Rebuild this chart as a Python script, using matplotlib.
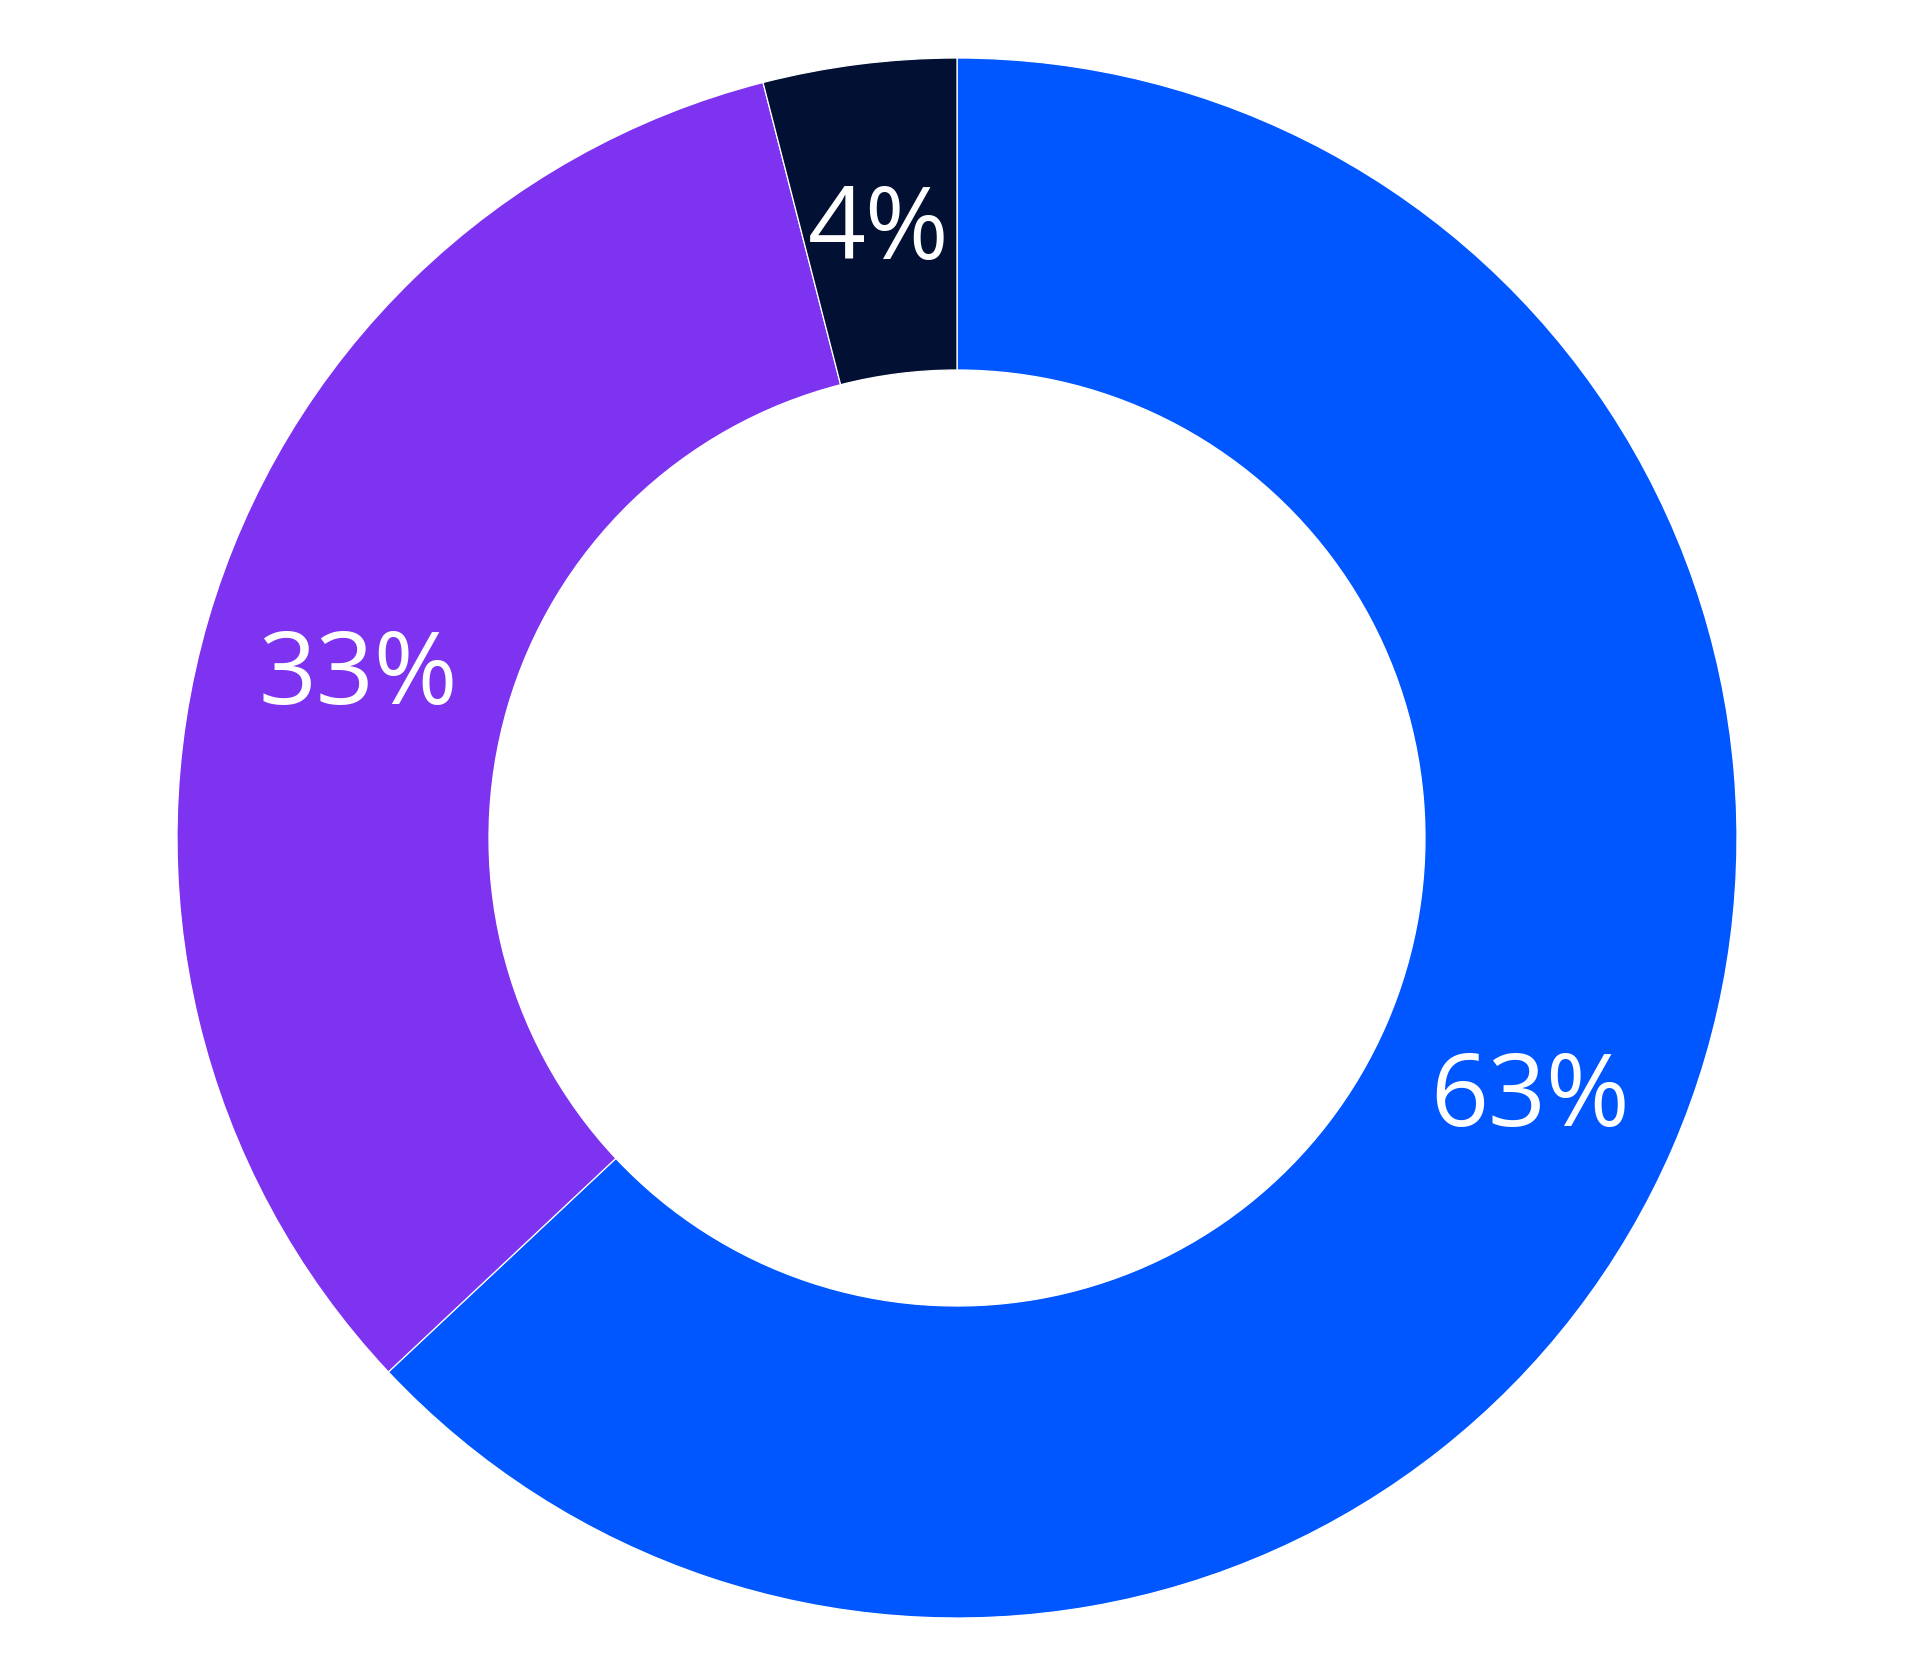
"""
Donut chart - three shares
"""

import matplotlib
matplotlib.use("Agg")
import matplotlib.pyplot as plt
import numpy as np

# data
labels = ["A", "B", "C"]
values = [63, 33, 4]
colors = ["#0057FF", "#7D33F0", "#021133"]

fig = plt.figure(figsize=(19.14, 16.80), dpi=100)
# axes placed so the ring is centered at (957, 838) with radius ~780 px
r_px = 780
cx, cy = 957, 838
W, H = 1914, 1680
ax = fig.add_axes([(cx - r_px) / W, (H - cy - r_px) / H, 2 * r_px / W, 2 * r_px / H])

wedges, _ = ax.pie(values, colors=colors, startangle=90, counterclock=False,
                   radius=1.0, wedgeprops=dict(width=0.4, edgecolor="white", linewidth=0.9))

# labels in the middle of the ring
total = sum(values)
start = 0.0
for v in values:
    mid = (start + v / 2) / total * 2 * np.pi
    x = 0.8 * np.sin(mid)
    y = 0.8 * np.cos(mid)
    # baseline a bit below the anchor so the digits sit centered
    ax.annotate("{}%".format(v), (x, y), xytext=(0, -29), textcoords="offset points",
                ha="center", va="baseline", color="white", fontsize=73,
                family=["Open Sans", "DejaVu Sans"])
    start += v

ax.set_xlim(-1, 1)
ax.set_ylim(-1, 1)
ax.set_aspect("equal")
ax.axis("off")

fig.savefig("out.png", dpi=100, facecolor="white")
